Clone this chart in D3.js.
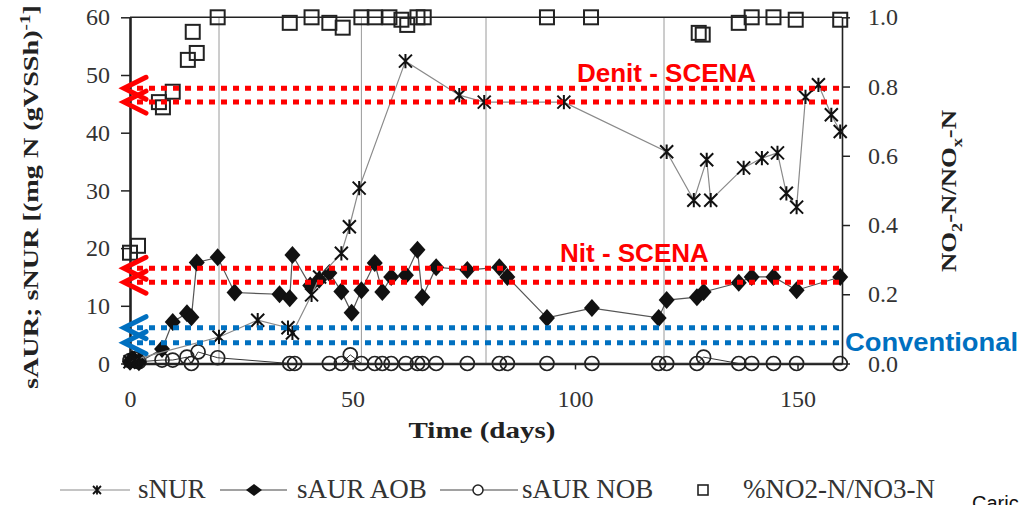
<!DOCTYPE html>
<html>
<head>
<meta charset="utf-8">
<script src="https://cdn.jsdelivr.net/npm/d3@7"></script>
<style>
  html, body { margin: 0; padding: 0; background: #fff; overflow: hidden; }
</style>
</head>
<body>
<div id="chart"></div>
<script>
// ── Datos ────────────────────────────────────────────────────────────────
const nurDays = [0, 1, 2, 20, 28.7, 35.5, 36.5, 40.8, 42.6, 47.5, 49.3, 51.5, 61.9, 74, 79.6, 97.5,
  120.6, 126.7, 129.6, 130.5, 137.9, 142, 145.5, 147.5, 149.8, 151.8, 154.7, 157.6, 159.6];
const nurValues = [0.3, 0.6, 0.9, 4.6, 7.5, 6.2, 5.3, 11.9, 15.0, 19.1, 23.7, 30.4, 52.4, 46.5, 45.3, 45.3,
  36.7, 28.3, 35.3, 28.3, 33.9, 35.6, 36.5, 29.5, 27.1, 46.2, 48.3, 43.1, 40.2];

const aobDays = [0, 0.5, 1, 2, 7.2, 9.6, 12.8, 13.8, 15, 19.7, 23.5, 33.6, 35.9, 36.5, 40.5, 42.5, 44.8,
  47.5, 49.8, 52, 55, 56.7, 58.7, 62, 64.6, 65.7, 68.8, 75.8, 83, 84.8, 93.7, 103.8, 118.8, 120.6,
  127.4, 128.9, 136.8, 139.7, 144.6, 149.8, 159.6];
const aobValues = [0.3, 0.8, 0.5, 0.2, 2.5, 7.2, 8.7, 8.0, 17.5, 18.4, 12.3, 12.0, 11.3, 18.8, 13.5, 14.5, 15.7,
  12.5, 8.8, 12.7, 17.4, 12.4, 15.0, 15.3, 19.7, 11.5, 16.7, 16.2, 16.7, 15.0, 7.9, 9.6, 7.9, 11.0,
  11.5, 12.4, 14.0, 15.0, 15.0, 12.7, 15.0];

const nobDays = [0, 1, 2, 7.2, 9.6, 12.8, 13.8, 15.3, 19.7, 35.9, 37, 44.8, 47.5, 49.5, 52, 55, 56.7,
  58.7, 62, 64.6, 65.7, 68.8, 75.8, 83, 84.8, 93.7, 103.8, 118.8, 120.6, 127.4, 128.9, 136.8, 139.7,
  144.6, 149.8, 159.6];
const nobValues = [0.5, 0.8, 0.3, 0.6, 0.6, 1.1, 0, 2.0, 1.0, 0, 0, 0, 0, 1.5, 0, 0, 0,
  0, 0, 0, 0, 0, 0, 0, 0, 0, 0, 0, 0, 0, 1.1, 0, 0,
  0, 0, 0];

const ratioDays = [0, 1.8, 6.5, 7.4, 9.6, 13, 14.1, 15, 19.7, 35.9, 40.8, 44.8, 47.8, 52, 55, 58.3, 61,
  62.3, 64.6, 66, 93.7, 103.6, 127.8, 128.7, 136.8, 139.7, 144.6, 149.6, 159.6];
const ratioValues = [0.32, 0.34, 0.755, 0.74, 0.785, 0.877, 0.958, 0.897, 1.0, 0.984, 1.0, 0.984, 0.97, 1.0, 1.0, 1.0, 0.993,
  0.978, 1.0, 1.0, 1.0, 1.0, 0.955, 0.95, 0.984, 1.0, 1.0, 0.993, 0.993];

// Líneas verticales de cambio de fase
const phaseDays = [20, 52, 80, 120];

// Bandas de referencia (eje izquierdo)
const denitBand = [47.7, 45.3];
const nitBand = [16.5, 14.1];
const convBand = [6.2, 3.6];

// Ticks
const xTicks = [0, 50, 100, 150];
const leftTicks = [0, 10, 20, 30, 40, 50, 60];
const rightTicks = [0, 0.2, 0.4, 0.6, 0.8, 1.0];

const legendLabels = ["sNUR", "sAUR AOB", "sAUR NOB", "%NO2-N/NO3-N"];

// ── Escalas ──────────────────────────────────────────────────────────────
const W = 1021, H = 505;
const SERIF = "'Liberation Serif', 'Times New Roman', serif";
const x = d3.scaleLinear().domain([0, 160]).range([130, 842]);
const yL = d3.scaleLinear().domain([0, 60]).range([363.5, 17.3]);
const yR = d3.scaleLinear().domain([0, 1]).range([363.5, 17.3]);

const svg = d3.select("#chart").append("svg")
  .attr("width", W)
  .attr("height", H)
  .style("font-family", SERIF);

// ── Rejilla vertical ─────────────────────────────────────────────────────
svg.append("g")
  .selectAll("line")
  .data(phaseDays)
  .join("line")
  .attr("x1", d => x(d)).attr("x2", d => x(d))
  .attr("y1", yL(60)).attr("y2", yL(0))
  .attr("stroke", "#9a9a9a")
  .attr("stroke-width", 1);

// marco superior
svg.append("line")
  .attr("x1", x(0)).attr("x2", x(160))
  .attr("y1", yL(60)).attr("y2", yL(60))
  .attr("stroke", "#222").attr("stroke-width", 1.6);

// ── Ejes ────────────────────────────────────────────────────────────────
function styleAxis(g, domainWidth) {
  g.attr("font-family", SERIF).attr("font-size", 24);
  g.select(".domain").attr("stroke", "#222").attr("stroke-width", domainWidth);
  g.selectAll(".tick line").attr("stroke", "#222").attr("stroke-width", 1.5);
  g.selectAll(".tick text")
    .attr("fill", "#333")
    .style("font-size", "24px")
    .style("font-family", SERIF);
}

svg.append("g")
  .attr("transform", `translate(${x(160)},0)`)
  .call(d3.axisRight(yR).tickValues(rightTicks).tickFormat(d3.format(".1f"))
    .tickSize(8).tickSizeOuter(0).tickPadding(18))
  .call(g => styleAxis(g, 1.6));

svg.append("g")
  .attr("transform", `translate(0,${yL(0)})`)
  .call(d3.axisBottom(x).tickValues(xTicks).tickFormat(d3.format("d"))
    .tickSize(6).tickSizeOuter(0).tickPadding(20))
  .call(g => styleAxis(g, 2.6));

svg.append("g")
  .attr("transform", `translate(${x(0)},0)`)
  .call(d3.axisLeft(yL).tickValues(leftTicks).tickFormat(d3.format("d"))
    .tickSize(9).tickSizeOuter(0).tickPadding(11))
  .call(g => styleAxis(g, 2.6));

// ── Títulos de ejes ─────────────────────────────────────────────────────
svg.append("text")
  .attr("x", 482).attr("y", 438)
  .attr("text-anchor", "middle")
  .attr("font-weight", "bold")
  .attr("fill", "#222")
  .style("font-size", "24px")
  .attr("textLength", 147)
  .attr("lengthAdjust", "spacingAndGlyphs")
  .text("Time (days)");

const leftTitle = svg.append("text")
  .attr("transform", "translate(38,197) rotate(-90)")
  .attr("text-anchor", "middle")
  .attr("font-weight", "bold")
  .attr("fill", "#222")
  .style("font-size", "22px")
  .attr("textLength", 384)
  .attr("lengthAdjust", "spacingAndGlyphs");
leftTitle.append("tspan").text("sAUR; sNUR [(mg N (gVSSh)");
leftTitle.append("tspan").attr("dy", -8).style("font-size", "15px").text("-1");
leftTitle.append("tspan").attr("dy", 8).text("]");

const rightTitle = svg.append("text")
  .attr("transform", "translate(956,191) rotate(-90)")
  .attr("text-anchor", "middle")
  .attr("font-weight", "bold")
  .attr("fill", "#222")
  .style("font-size", "22px")
  .attr("textLength", 162)
  .attr("lengthAdjust", "spacingAndGlyphs");
rightTitle.append("tspan").text("NO");
rightTitle.append("tspan").attr("dy", 6).style("font-size", "15px").text("2");
rightTitle.append("tspan").attr("dy", -6).text("-N/NO");
rightTitle.append("tspan").attr("dy", 6).style("font-size", "15px").text("x");
rightTitle.append("tspan").attr("dy", -6).text("-N");

// ── Marcadores ──────────────────────────────────────────────────────────
const starPath = s => `M${-s},${-s}L${s},${s}M${-s},${s}L${s},${-s}M0,${-s * 1.1}L0,${s * 1.1}`;
const diamondPath = (w, h) => `M0,${-h}L${w},0L0,${h}L${-w},0Z`;

const zip = (a, b) => a.map((d, i) => [d, b[i]]);
const nurData = zip(nurDays, nurValues);
const aobData = zip(aobDays, aobValues);
const nobData = zip(nobDays, nobValues);
const ratioData = zip(ratioDays, ratioValues);

const lineL = d3.line().x(d => x(d[0])).y(d => yL(d[1]));

// sAUR NOB
svg.append("path").datum(nobData)
  .attr("d", lineL).attr("fill", "none").attr("stroke", "#333").attr("stroke-width", 1);
svg.append("g").selectAll("circle").data(nobData).join("circle")
  .attr("cx", d => x(d[0])).attr("cy", d => yL(d[1])).attr("r", 7)
  .attr("fill", "none").attr("stroke", "#222").attr("stroke-width", 1.7);

// sAUR AOB
svg.append("path").datum(aobData)
  .attr("d", lineL).attr("fill", "none").attr("stroke", "#555").attr("stroke-width", 1.2);
svg.append("g").selectAll("path").data(aobData).join("path")
  .attr("transform", d => `translate(${x(d[0])},${yL(d[1])})`)
  .attr("d", diamondPath(8, 9))
  .attr("fill", "#111");

// sNUR
svg.append("path").datum(nurData)
  .attr("d", lineL).attr("fill", "none").attr("stroke", "#8a8a8a").attr("stroke-width", 1.2);
svg.append("g").selectAll("path").data(nurData).join("path")
  .attr("transform", d => `translate(${x(d[0])},${yL(d[1])})`)
  .attr("d", starPath(6.5))
  .attr("fill", "none").attr("stroke", "#111").attr("stroke-width", 2);

// %NO2-N/NO3-N
svg.append("g").selectAll("rect").data(ratioData).join("rect")
  .attr("x", d => x(d[0]) - 7).attr("y", d => yR(d[1]) - 7)
  .attr("width", 14).attr("height", 14)
  .attr("fill", "none").attr("stroke", "#222").attr("stroke-width", 2);

// ── Bandas de referencia ────────────────────────────────────────────────
const RED = "#ff0000", BLUE = "#0070c0";
const bands = [
  { vals: denitBand, color: RED },
  { vals: nitBand, color: RED },
  { vals: convBand, color: BLUE }
];
bands.forEach(b => {
  b.vals.forEach(v => {
    svg.append("line")
      .attr("x1", 137).attr("x2", x(160))
      .attr("y1", yL(v)).attr("y2", yL(v))
      .attr("stroke", b.color).attr("stroke-width", 5)
      .attr("stroke-dasharray", "6,6");
    svg.append("path")
      .attr("d", `M146,${yL(v) - 11}L124,${yL(v)}L146,${yL(v) + 11}`)
      .attr("fill", "none").attr("stroke", b.color).attr("stroke-width", 5)
      .attr("stroke-linecap", "round");
  });
});

const annot = svg.append("g")
  .style("font-family", "'Liberation Sans', Arial, sans-serif")
  .attr("font-weight", "bold");
annot.append("text").attr("x", 577).attr("y", 82).attr("fill", RED)
  .style("font-size", "26px").text("Denit - SCENA");
annot.append("text").attr("x", 560).attr("y", 262).attr("fill", RED)
  .style("font-size", "26px").text("Nit - SCENA");
annot.append("text").attr("x", 845).attr("y", 351).attr("fill", BLUE)
  .style("font-size", "26px").attr("textLength", 173).attr("lengthAdjust", "spacingAndGlyphs")
  .text("Conventional");

svg.append("text")
  .attr("x", 972).attr("y", 510)
  .style("font-family", "'Liberation Sans', Arial, sans-serif")
  .style("font-size", "20px")
  .attr("fill", "#111")
  .text("Caric");

// ── Leyenda ─────────────────────────────────────────────────────────────
const legY = 490;
const leg = svg.append("g");
const legendItems = [
  { line: [60, 130], mx: 97, tx: 138, stroke: "#8a8a8a" },
  { line: [220, 287], mx: 254, tx: 297, stroke: "#444" },
  { line: [440, 518], mx: 478, tx: 522, stroke: "#444" },
  { line: null, mx: 703, tx: 743 }
];
legendItems.forEach((it, i) => {
  if (it.line) {
    leg.append("line")
      .attr("x1", it.line[0]).attr("x2", it.line[1])
      .attr("y1", legY).attr("y2", legY)
      .attr("stroke", it.stroke).attr("stroke-width", 1.2);
  }
  const m = leg.append("g").attr("transform", `translate(${it.mx},${legY})`);
  if (i === 0) m.append("path").attr("d", starPath(4)).attr("fill", "none").attr("stroke", "#111").attr("stroke-width", 1.8);
  if (i === 1) m.append("path").attr("d", diamondPath(8, 6)).attr("fill", "#111");
  if (i === 2) m.append("circle").attr("r", 5).attr("fill", "#fff").attr("stroke", "#222").attr("stroke-width", 1.5);
  if (i === 3) m.append("rect").attr("x", -5).attr("y", -5).attr("width", 10).attr("height", 10)
    .attr("fill", "none").attr("stroke", "#222").attr("stroke-width", 1.6);
  leg.append("text")
    .attr("x", it.tx).attr("y", 498)
    .attr("fill", "#333")
    .style("font-size", "27px")
    .text(legendLabels[i]);
});
</script>
</body>
</html>
